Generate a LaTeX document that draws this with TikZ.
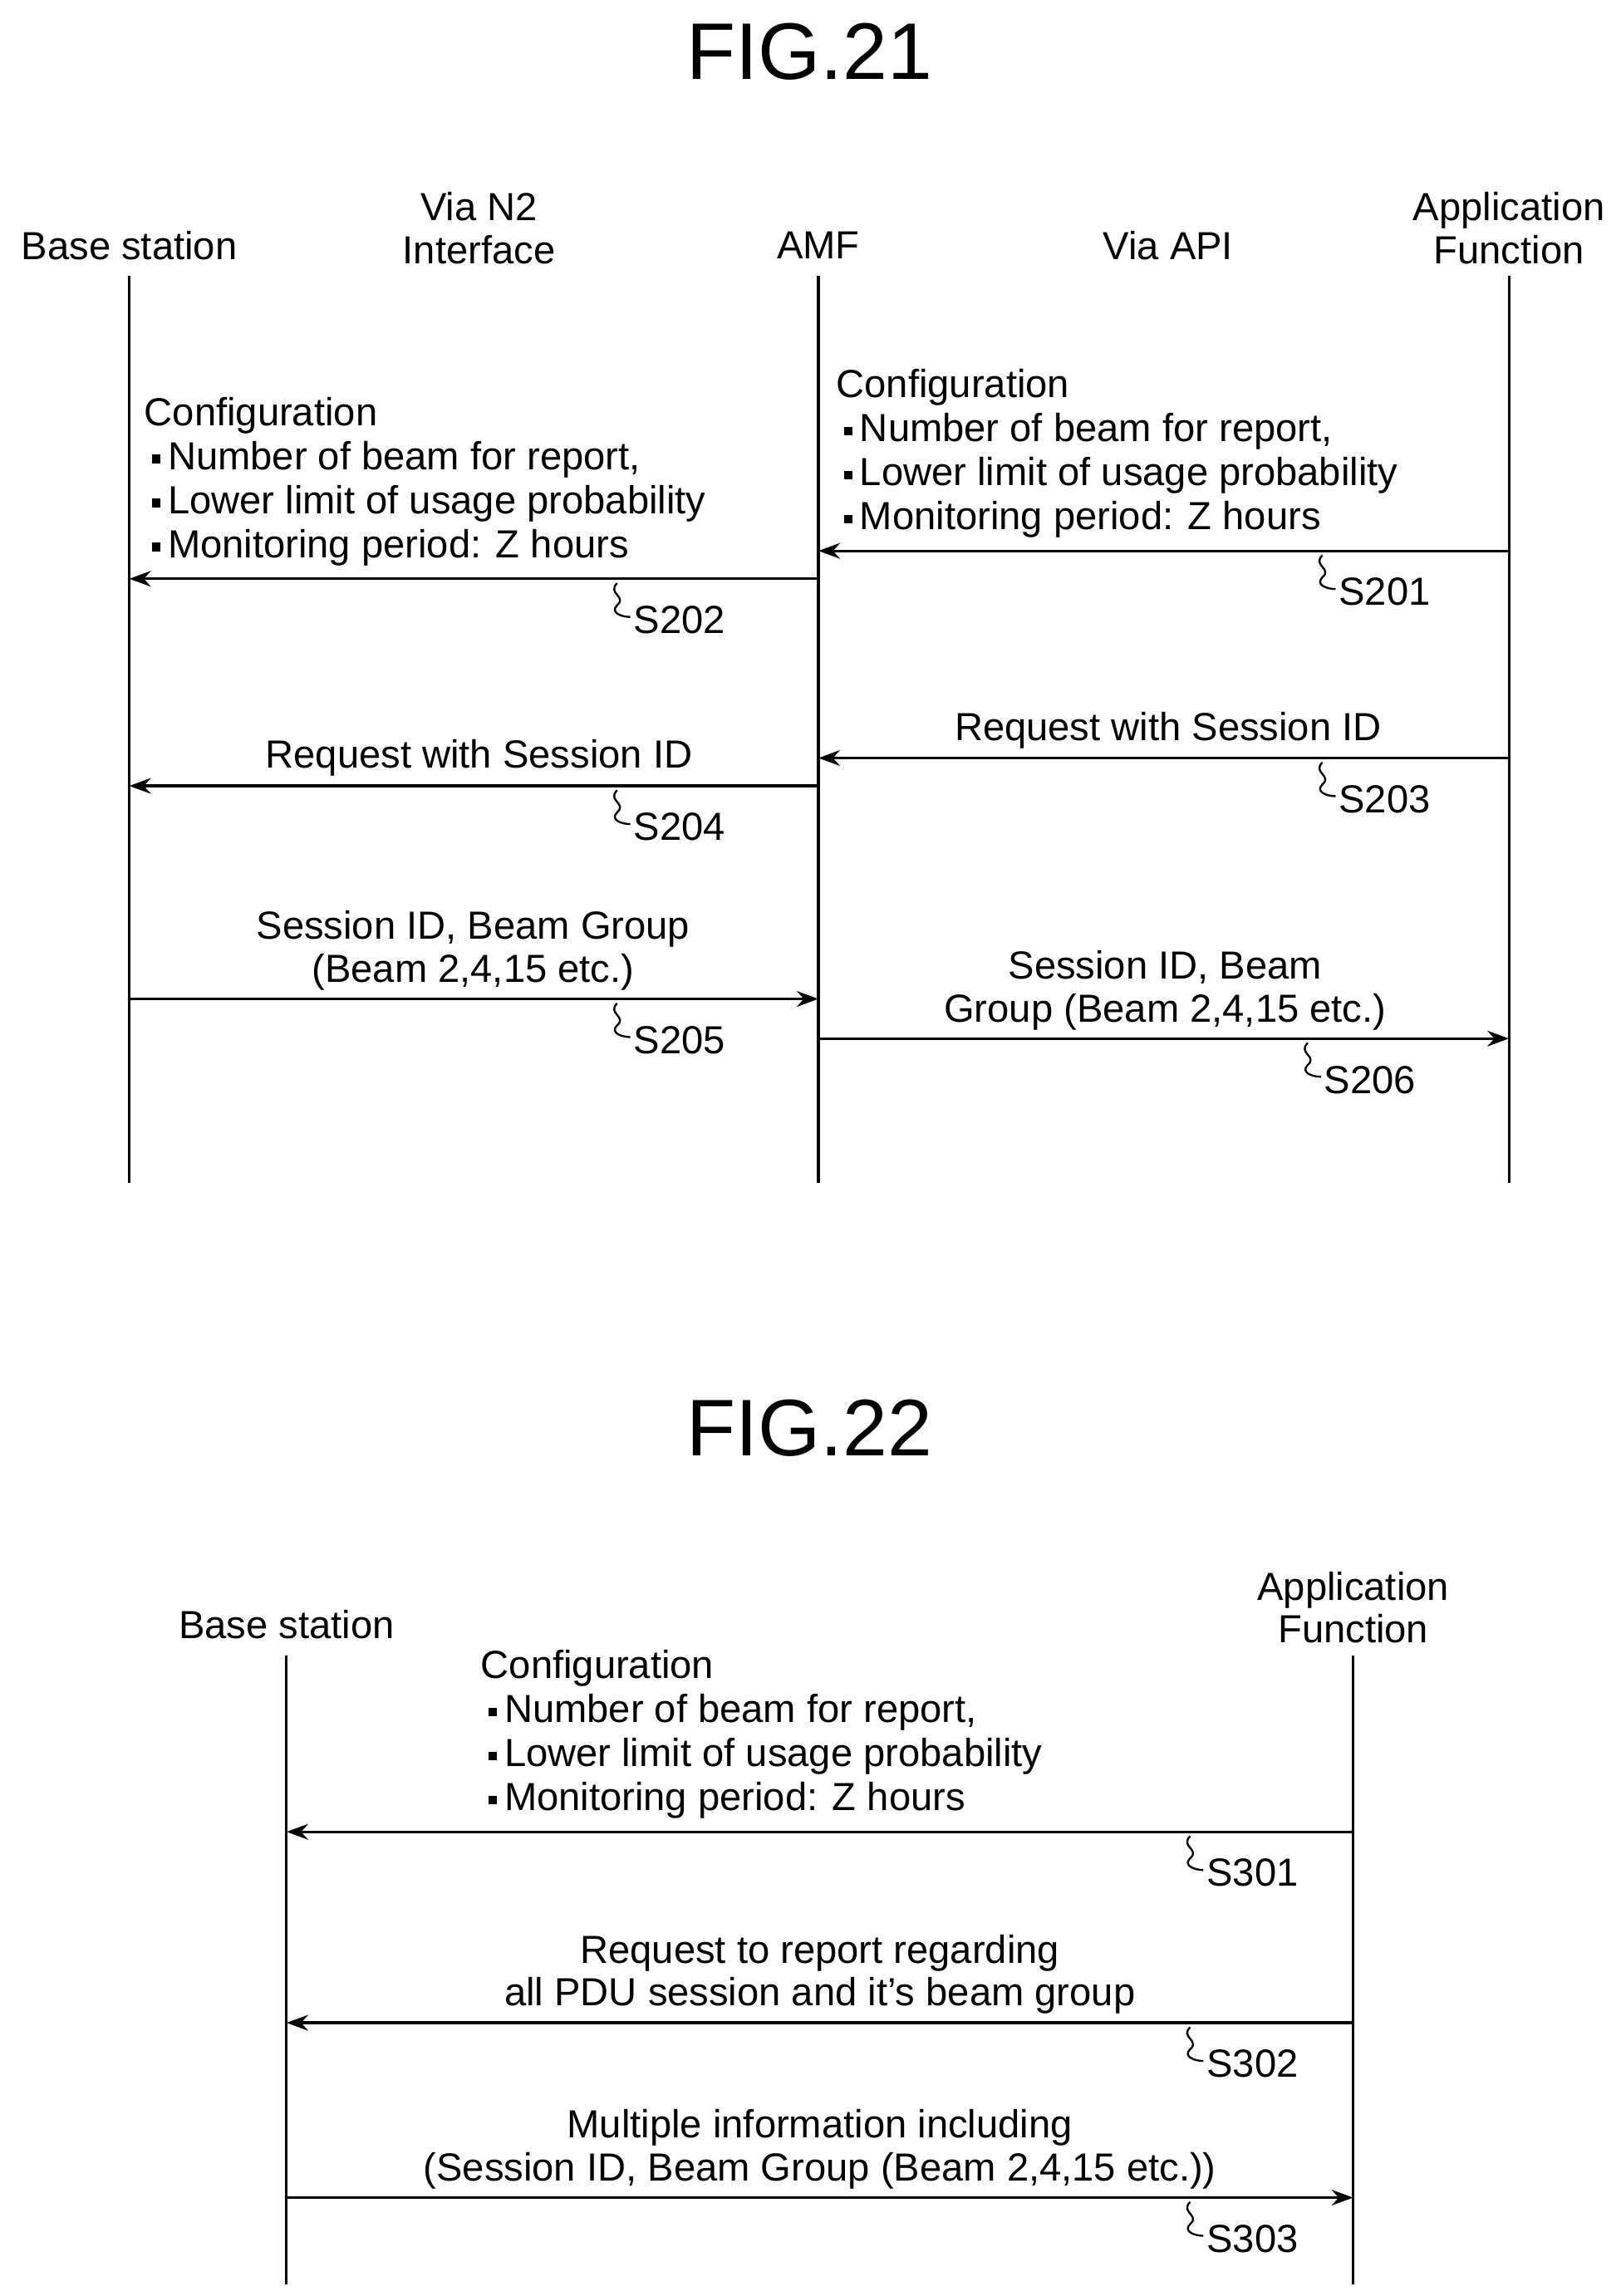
\documentclass[tikz,border=0pt]{standalone}
\usepackage{fontspec}
\setmainfont{Liberation Sans}
\usetikzlibrary{arrows.meta}
\newcommand{\bdot}{\makebox[0.6em][c]{\rule[0.3ex]{0.22em}{0.22em}}}
\begin{document}
\begin{tikzpicture}[x=0.75pt,y=-0.75pt,
  txt/.style={font=\fontsize{20}{22}\selectfont,inner sep=0pt,align=center},
  ltxt/.style={font=\fontsize{20}{22.5}\selectfont,inner sep=0pt,align=left,anchor=north west},
  life/.style={line width=1.4pt},
  msg/.style={line width=1.4pt,-{Stealth[length=11pt,width=8pt]}},
  sq/.style={line width=1pt},
  title/.style={font=\fontsize{41}{45}\selectfont,inner sep=0pt}]
\useasboundingbox (0,0) rectangle (1103,1563);
\newcommand{\sqlab}[3]{\draw[sq] (#1-45,#2+3) .. controls (#1-52,#2+10) and (#1-38,#2+12) .. (#1-45,#2+18) .. controls (#1-50,#2+23) and (#1-42,#2+26) .. (#1-36,#2+26);
  \node[txt,anchor=west] at (#1-34,#2+28) {#3};}
% FIG.21
\node[title] (t1) at (551,35) {FIG.21};
\node[txt] (hbs) at (88,167) {Base station};
\node[txt,anchor=south] (hn2) at (326,180) {Via N2\\Interface};
\node[txt] (hamf) at (557,167) {AMF};
\node[txt] (hapi) at (795,167) {Via API};
\node[txt,anchor=south] (haf) at (1027,180) {Application\\Function};
\coordinate (b0) at (88,188); \coordinate (b1) at (88,805);
\coordinate (a0) at (557,188); \coordinate (a1) at (557,805);
\coordinate (f0) at (1027,188); \coordinate (f1) at (1027,805);
\draw[life] (b0)--(b1); \draw[life] (a0)--(a1); \draw[life] (f0)--(f1);
% S201
\node[ltxt] (m201) at (569,251) {Configuration\\\bdot Number of beam for report,\\\bdot Lower limit of usage probability\\\bdot Monitoring period: Z hours};
\draw[msg] (1027,375) -- (557,375);
\sqlab{945}{375}{S201}
% S202
\node[ltxt] (m202) at (98,270) {Configuration\\\bdot Number of beam for report,\\\bdot Lower limit of usage probability\\\bdot Monitoring period: Z hours};
\draw[msg] (557,394) -- (88,394);
\sqlab{465}{394}{S202}
% S203
\node[txt] (m203) at (795,497) {Request with Session ID};
\draw[msg] (1027,516) -- (557,516);
\sqlab{945}{516}{S203}
% S204
\node[txt] (m204) at (326,516) {Request with Session ID};
\draw[msg] (557,535) -- (88,535);
\sqlab{465}{535}{S204}
% S205
\node[txt] (m205) at (322,647) {Session ID, Beam Group\\(Beam 2,4,15 etc.)};
\draw[msg] (88,680) -- (557,680);
\sqlab{465}{680}{S205}
% S206
\node[txt] (m206) at (793,674) {Session ID, Beam\\Group (Beam 2,4,15 etc.)};
\draw[msg] (557,707) -- (1027,707);
\sqlab{935}{707}{S206}
% FIG.22
\node[title] (t2) at (551,972) {FIG.22};
\node[txt] (gbs) at (195,1106) {Base station};
\node[txt,anchor=south] (gaf) at (921,1119) {Application\\Function};
\coordinate (c0) at (195,1127); \coordinate (c1) at (195,1555);
\coordinate (d0) at (921,1127); \coordinate (d1) at (921,1555);
\draw[life] (c0)--(c1); \draw[life] (d0)--(d1);
\node[ltxt] (m301) at (327,1123) {Configuration\\\bdot Number of beam for report,\\\bdot Lower limit of usage probability\\\bdot Monitoring period: Z hours};
\draw[msg] (921,1247) -- (195,1247);
\sqlab{855}{1247}{S301}
\node[txt] (m302) at (558,1344) {Request to report regarding\\all PDU session and it's beam group};
\draw[msg] (921,1377) -- (195,1377);
\sqlab{855}{1377}{S302}
\node[txt] (m303) at (558,1463) {Multiple information including\\(Session ID, Beam Group (Beam 2,4,15 etc.))};
\draw[msg] (195,1496) -- (921,1496);
\sqlab{855}{1496}{S303}
\end{tikzpicture}
\end{document}
